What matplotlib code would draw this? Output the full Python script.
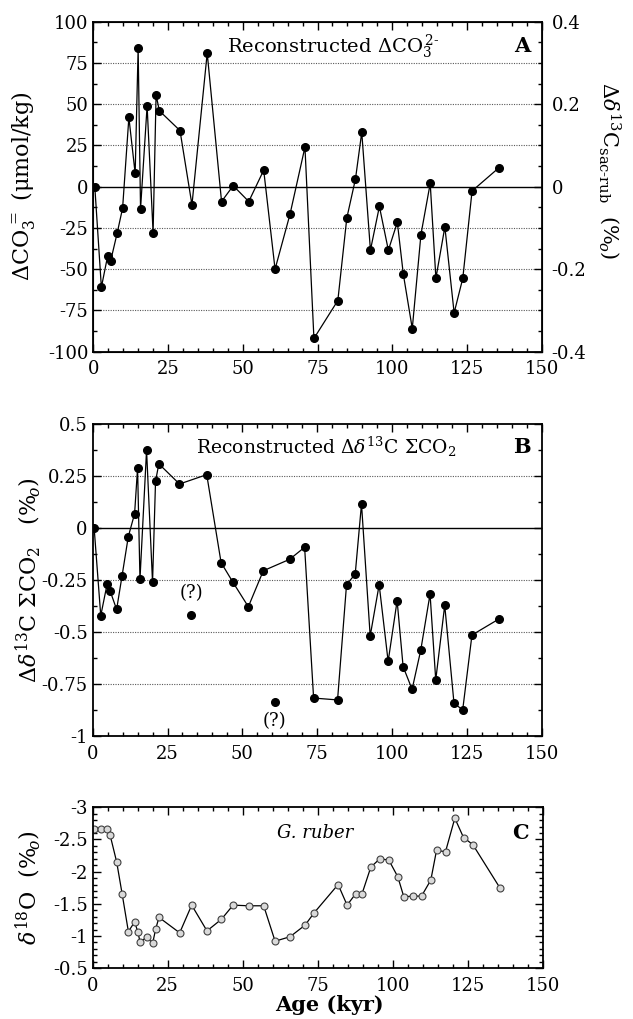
import matplotlib
matplotlib.use('Agg')
import matplotlib.pyplot as plt
import numpy as np
from matplotlib.ticker import MultipleLocator, FuncFormatter

plt.rcParams['font.family'] = ['DejaVu Serif']
plt.rcParams['mathtext.fontset'] = 'dejavuserif'
plt.rcParams['axes.unicode_minus'] = False

# ages (kyr), shared by the three panels
age = [0.5, 2.7, 4.8, 5.8, 8.0, 9.8, 11.9, 14.0, 15.0, 15.8, 18.0, 20.0, 21.0, 22.1,
       29.0, 33.0, 38.1, 42.9, 46.8, 52.0, 57.0, 60.8, 65.8, 70.8, 73.8, 81.8, 84.8,
       87.7, 89.8, 92.7, 95.7, 98.7, 101.7, 103.7, 106.7, 109.6, 112.7, 114.6, 117.6,
       120.7, 123.6, 126.7, 135.7]

# panel A: delta CO3= (umol/kg)
dco3 = [0, -61, -42, -45, -28, -13, 42, 8, 84, -13.5, 49, -28, 55.6, 46,
        34, -11, 81, -9, 0.6, -9, 10, -50, -16.7, 24, -92, -69, -19,
        4.7, 33, -38.5, -12, -38.5, -21.6, -53, -86, -29, 2, -55.5, -24.4,
        -76.5, -55.5, -2.6, 11.5]

# panel B: delta d13C sumCO2 (permil)
d13c = [0, -0.42, -0.27, -0.30, -0.39, -0.23, -0.04, 0.07, 0.29, -0.245, 0.376, -0.26, 0.226, 0.31,
        0.213, -0.418, 0.258, -0.165, -0.258, -0.377, -0.204, -0.835, -0.149, -0.091, -0.816, -0.825, -0.271,
        -0.22, 0.117, -0.518, -0.271, -0.64, -0.348, -0.665, -0.774, -0.585, -0.316, -0.729, -0.37,
        -0.841, -0.873, -0.513, -0.436]
questionable = [15, 21]   # points marked (?), not joined by the line

# panel C: d18O G. ruber (permil)
d18o = [-2.66, -2.66, -2.66, -2.57, -2.15, -1.66, -1.07, -1.22, -1.07, -0.91, -0.98, -0.89, -1.11, -1.29,
        -1.05, -1.48, -1.08, -1.26, -1.48, -1.47, -1.47, -0.92, -0.99, -1.17, -1.36, -1.80, -1.48,
        -1.66, -1.66, -2.07, -2.20, -2.18, -1.92, -1.61, -1.62, -1.62, -1.87, -2.33, -2.31,
        -2.83, -2.53, -2.42, -1.75]

age = np.array(age)
d13c = np.array(d13c)

fmt = FuncFormatter(lambda v, p: f'{v:g}')
TICK = 13
LAB = 16


def style_axis(ax, right=True):
    ax.set_xlim(0, 150)
    ax.xaxis.set_major_locator(MultipleLocator(25))
    ax.xaxis.set_minor_locator(MultipleLocator(5))
    ax.tick_params(which='both', direction='in', top=True, right=right, labelsize=TICK, width=1)
    ax.tick_params(which='major', length=5.5)
    ax.tick_params(which='minor', length=3)
    ax.tick_params(axis='x', pad=6)
    ax.yaxis.set_major_formatter(fmt)
    for s in ax.spines.values():
        s.set_linewidth(1.3)


fig = plt.figure(figsize=(6.33, 10.19), dpi=100)

# ---- A ----
axA = fig.add_axes([0.1474, 0.6549, 0.7084, 0.3238])
style_axis(axA, right=False)
axA.set_ylim(-100, 100)
axA.yaxis.set_major_locator(MultipleLocator(25))
axA.yaxis.set_minor_locator(MultipleLocator(12.5))
for g in [-75, -50, -25, 25, 50, 75]:
    axA.axhline(g, color='0.35', lw=0.8, ls=(0, (1, 1.2)), zorder=1)
axA.axhline(0, color='black', lw=1.0, zorder=1)
axA.plot(age, dco3, color='black', lw=0.9, marker='o', ms=5.5, zorder=3)
axA.set_ylabel(r'$\Delta$CO$_3^{\,=}$ (μmol/kg)', fontsize=LAB)
axA.yaxis.set_label_coords(-0.125, 0.5)
axA.text(0.535, 0.925, r'Reconstructed $\Delta$CO$_3^{\,2\text{-}}$', transform=axA.transAxes,
         ha='center', va='center', fontsize=14)
axA.text(0.975, 0.925, 'A', transform=axA.transAxes, ha='right', va='center',
         fontsize=15, fontweight='bold')

ax2 = axA.twinx()
ax2.set_ylim(-0.4, 0.4)
ax2.yaxis.set_major_locator(MultipleLocator(0.2))
ax2.yaxis.set_minor_locator(MultipleLocator(0.05))
ax2.yaxis.set_major_formatter(fmt)
ax2.tick_params(which='both', direction='in', labelsize=TICK, width=1, pad=7)
ax2.tick_params(which='major', length=5.5)
ax2.tick_params(which='minor', length=3)
ax2.set_ylabel(r'$\Delta\delta^{13}$C$_{\text{sac-rub}}$  ($\%_{\!o}$)', fontsize=15,
               rotation=270)
ax2.yaxis.set_label_coords(1.18, 0.55)

# ---- B ----
axB = fig.add_axes([0.1464, 0.2774, 0.7094, 0.3062])
style_axis(axB)
axB.set_ylim(-1, 0.5)
axB.yaxis.set_major_locator(MultipleLocator(0.25))
axB.yaxis.set_minor_locator(MultipleLocator(0.125))
for g in [-0.75, -0.5, -0.25, 0.25]:
    axB.axhline(g, color='0.35', lw=0.8, ls=(0, (1, 1.2)), zorder=1)
axB.axhline(0, color='black', lw=1.0, zorder=1)
keep = np.ones(len(age), dtype=bool)
keep[questionable] = False
axB.plot(age[keep], d13c[keep], color='black', lw=0.9, marker='o', ms=5.5, zorder=3)
axB.plot(age[~keep], d13c[~keep], ls='none', color='black', marker='o', ms=5.5, zorder=3)
for i, off in zip(questionable, [16, -14]):
    axB.annotate('(?)', (age[i], d13c[i]), xytext=(0, off), textcoords='offset points',
                 ha='center', va='center', fontsize=13)
axB.set_ylabel(r'$\Delta\delta^{13}$C $\Sigma$CO$_2$   ($\%_{\!o}$)', fontsize=LAB)
axB.yaxis.set_label_coords(-0.11, 0.5)
axB.text(0.52, 0.928, r'Reconstructed $\Delta\delta^{13}$C $\Sigma$CO$_2$', transform=axB.transAxes,
         ha='center', va='center', fontsize=13.5)
axB.text(0.975, 0.928, 'B', transform=axB.transAxes, ha='right', va='center',
         fontsize=15, fontweight='bold')

# ---- C ----
axC = fig.add_axes([0.1464, 0.0498, 0.7110, 0.1580])
style_axis(axC)
axC.set_ylim(-0.5, -3)
axC.yaxis.set_major_locator(MultipleLocator(0.5))
axC.yaxis.set_minor_locator(MultipleLocator(0.1))
axC.plot(age, d18o, color='black', lw=0.9, marker='o', ms=5, mfc='0.85', mec='0.25', mew=0.8)
axC.set_ylabel(r'$\delta^{18}$O  ($\%_{\!o}$)', fontsize=LAB)
axC.yaxis.set_label_coords(-0.11, 0.5)
axC.text(0.494, 0.84, 'G. ruber', style='italic', transform=axC.transAxes,
         ha='center', va='center', fontsize=13)
axC.text(0.97, 0.84, 'C', transform=axC.transAxes, ha='right', va='center',
         fontsize=15, fontweight='bold')
axC.set_xlabel('Age (kyr)', fontsize=15, fontweight='bold', labelpad=0)
axC.xaxis.set_label_coords(0.525, -0.165)
axC.xaxis.label.set_va('top')

fig.savefig('out.png', dpi=100, facecolor='white')
